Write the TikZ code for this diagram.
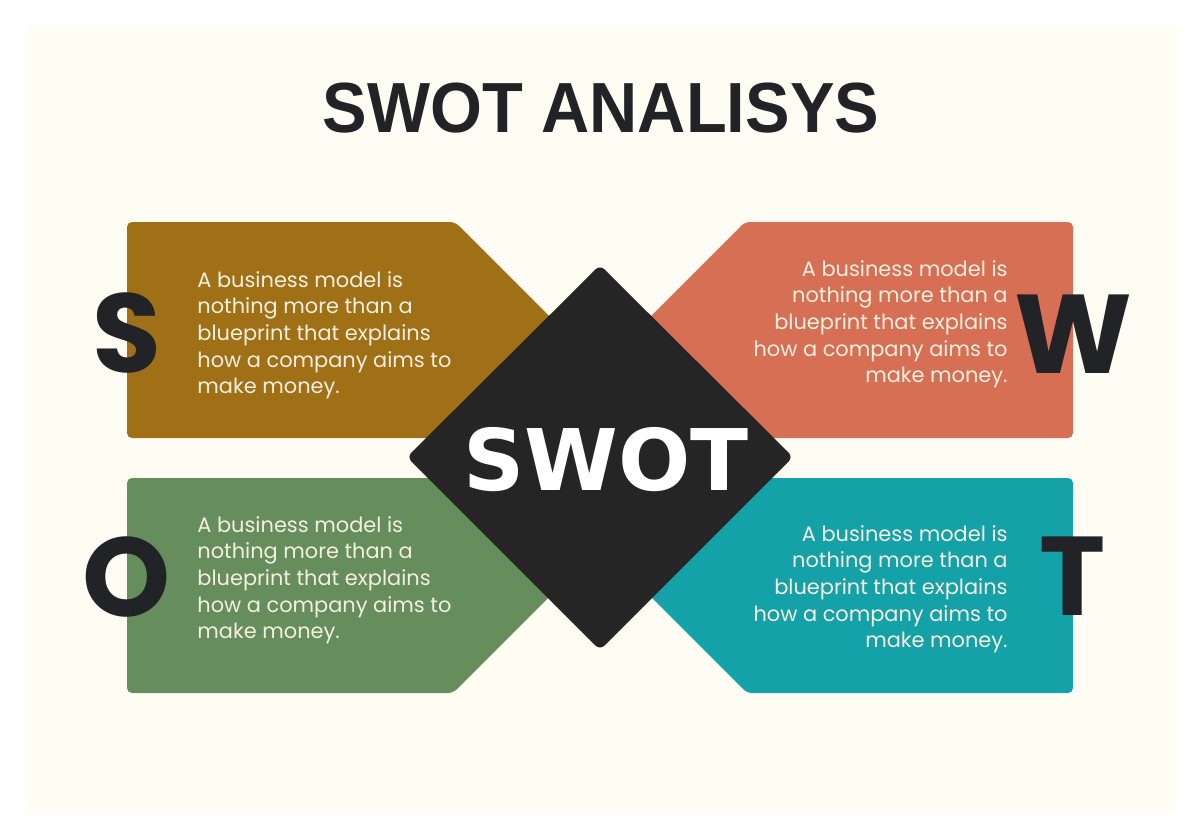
\documentclass[tikz,border=0pt]{standalone}
\usepackage{fontspec}
\usepackage{tikz}
\setmainfont{Poppins}
\newfontfamily\titlefont{Liberation Sans}
\newfontfamily\swotfont{DejaVu Sans}

\definecolor{bgcream}{HTML}{FFFCF3}
\definecolor{strength}{HTML}{A07016}
\definecolor{weakness}{HTML}{D66F54}
\definecolor{opportunity}{HTML}{668D5C}
\definecolor{threat}{HTML}{14A1A8}
\definecolor{diamondgray}{HTML}{252525}
\definecolor{inkdark}{HTML}{222326}
\definecolor{paneltext}{HTML}{F5EFE2}

\begin{document}
\begin{tikzpicture}
  [x=0.5pt,y=-0.5pt,
   panel/.style={rounded corners=2.5pt},
   blurb/.style={inner sep=0pt,text=paneltext,font=\fontsize{10.45}{13.3}\selectfont},
   letter/.style={anchor=base,inner sep=0pt,text=inkdark,font=\fontsize{56}{56}\selectfont\bfseries}]
  \useasboundingbox (0,0) rectangle (1200,835);
  \fill[white] (0,0) rectangle (1200,835);
  \fill[bgcream] (26,25) rectangle (1175,810);

  \node[anchor=base,inner sep=0pt,text=inkdark] (title) at (601,132)
    {\scalebox{0.94}[1]{\titlefont\bfseries\fontsize{35.5}{35.5}\selectfont SWOT ANALISYS}};

  \fill[panel,strength]    (127,222) -- (455,222) -- (671,438) -- (127,438) -- cycle;
  \fill[panel,weakness]    (1073,222) -- (745,222) -- (529,438) -- (1073,438) -- cycle;
  \fill[panel,opportunity] (127,478) -- (668,478) -- (453,693) -- (127,693) -- cycle;
  \fill[panel,threat]      (1073,478) -- (532,478) -- (747,693) -- (1073,693) -- cycle;

  \fill[rounded corners=3pt,diamondgray] (600,265) -- (793,457) -- (600,650) -- (407,457) -- cycle;
  \node[anchor=base,inner sep=0pt,text=white] (swot) at (606,490)
    {\swotfont\bfseries\fontsize{42.5}{42.5}\selectfont SWOT};

  \node[blurb,anchor=north west,align=left] (stext) at (197,271)
    {A business model is\\nothing more than a\\blueprint that explains\\how a company aims to\\make money.};
  \node[blurb,anchor=north east,align=right] (wtext) at (1008,260)
    {A business model is\\nothing more than a\\blueprint that explains\\how a company aims to\\make money.};
  \node[blurb,anchor=north west,align=left] (otext) at (197,516)
    {A business model is\\nothing more than a\\blueprint that explains\\how a company aims to\\make money.};
  \node[blurb,anchor=north east,align=right] (ttext) at (1008,525)
    {A business model is\\nothing more than a\\blueprint that explains\\how a company aims to\\make money.};

  \foreach \l/\x/\y in {S/127/372, W/1073/373, O/127/616, T/1073/615}
    \node[letter] (letter\l) at (\x,\y) {\l};

\end{tikzpicture}
\end{document}
